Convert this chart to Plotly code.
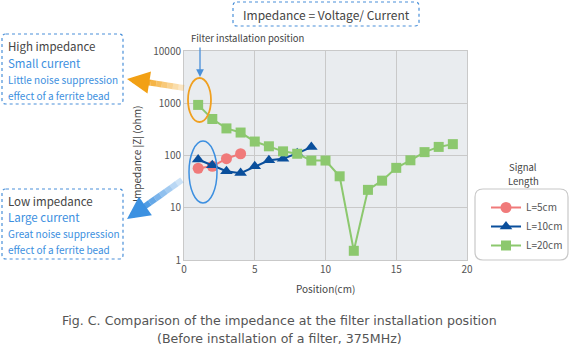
import plotly.graph_objects as go

# ---- data ----
pos_5 = [1, 2, 3, 4]
z_5 = [57, 62, 87, 108]
pos_10 = [1, 2, 3, 4, 5, 6, 7, 8, 9]
z_10 = [84, 65, 50, 46, 62, 81, 87, 110, 145]
pos_20 = [1, 2, 3, 4, 5, 6, 7, 8, 9, 10, 11, 12, 13, 14, 15, 16, 17, 18, 19]
z_20 = [930, 500, 330, 275, 185, 150, 120, 108, 80, 80, 40, 1.5, 22, 33, 58, 81, 116, 146, 165]
x_ticks = [0, 5, 10, 15, 20]
y_ticks = [1, 10, 100, 1000, 10000]
y_tick_text = ["1", "10", "100", "1000", "10000"]

W, H = 570, 346
L, R, T, B = 184, 467, 51, 260
FONT = "Noto Sans CJK JP"
WIDE = "DejaVu Sans"
BLUE_T = "#3c8fe0"
GRAY_T = "#444444"

def px(x):
    return (x - L) / (R - L)

def py(y):
    return (B - y) / (B - T)

fig = go.Figure()
fig.add_trace(go.Scatter(x=pos_5, y=z_5, name="L=5cm", mode="lines+markers",
                         line=dict(color="#f07a7a", width=2),
                         marker=dict(symbol="circle", size=11, color="#f07a7a")))
fig.add_trace(go.Scatter(x=pos_10, y=z_10, name="L=10cm", mode="lines+markers",
                         line=dict(color="#0a4f9c", width=2),
                         marker=dict(symbol="triangle-up", size=11, color="#0a4f9c")))
fig.add_trace(go.Scatter(x=pos_20, y=z_20, name="L=20cm", mode="lines+markers",
                         line=dict(color="#8cc86e", width=2),
                         marker=dict(symbol="square", size=10, color="#8cc86e")))

shapes = []
annotations = []

def rrect(x0, y0, x1, y1, r, color, dash, width=1.2):
    p = (f"M {px(x0 + r)} {py(y0)} L {px(x1 - r)} {py(y0)} "
         f"Q {px(x1)} {py(y0)} {px(x1)} {py(y0 + r)} "
         f"L {px(x1)} {py(y1 - r)} Q {px(x1)} {py(y1)} {px(x1 - r)} {py(y1)} "
         f"L {px(x0 + r)} {py(y1)} Q {px(x0)} {py(y1)} {px(x0)} {py(y1 - r)} "
         f"L {px(x0)} {py(y0 + r)} Q {px(x0)} {py(y0)} {px(x0 + r)} {py(y0)} Z")
    shapes.append(dict(type="path", xref="paper", yref="paper", path=p,
                       line=dict(color=color, width=width, dash=dash)))

def text(x, y, s, size, color, xanchor="left", angle=0, family=FONT, pad=1):
    annotations.append(dict(x=px(x), y=py(y), xref="paper", yref="paper", text=s,
                            showarrow=False, xanchor=xanchor, yanchor="middle",
                            textangle=angle, borderpad=pad,
                            font=dict(family=family, size=size, color=color)))

def arrow(hx, hy, tx, ty, width, size, color):
    annotations.append(dict(x=px(hx), y=py(hy), xref="paper", yref="paper",
                            ax=tx - hx, ay=ty - hy, axref="pixel", ayref="pixel",
                            text="", showarrow=True, arrowhead=2, arrowsize=size,
                            arrowwidth=width, arrowcolor=color, standoff=0))

def fade_arrow(hx, hy, tx, ty, width, color_rgb, n=8):
    # shaft fading from tail to head, then a solid head
    hx2 = hx + (tx - hx) * 0.22
    hy2 = hy + (ty - hy) * 0.22
    for i in range(n):
        f0, f1 = i / n, (i + 1) / n
        x0 = tx + (hx2 - tx) * f0
        y0 = ty + (hy2 - ty) * f0
        x1 = tx + (hx2 - tx) * f1
        y1 = ty + (hy2 - ty) * f1
        op = 0.15 + 0.85 * (i + 1) / n
        shapes.append(dict(type="line", xref="paper", yref="paper",
                           x0=px(x0), y0=py(y0), x1=px(x1), y1=py(y1),
                           line=dict(color=f"rgba({color_rgb},{op:.2f})", width=width)))
    arrow(hx, hy, hx2, hy2, width, 0.75, f"rgb({color_rgb})")

# dotted boxes
rrect(233, 2, 419, 26, 4, "#4a90d9", "dot")
rrect(2, 34, 123, 104, 4, "#4a90d9", "dot")
rrect(2, 189, 123, 259, 4, "#4a90d9", "dot")
# legend box
rrect(475, 189, 568, 260, 8, "#c8c8c8", "solid", 1.2)

text(326, 14, "Impedance = Voltage/ Current", 12, GRAY_T, "center")
text(6, 46, "High impedance", 11.5, GRAY_T)
text(6, 63, "Small current", 11.5, BLUE_T)
text(6, 79, "Little noise suppression", 10, BLUE_T)
text(6, 95, "effect of a ferrite bead", 10, BLUE_T)
text(6, 201, "Low impedance", 11.5, GRAY_T)
text(6, 217, "Large current", 11.5, BLUE_T)
text(6, 233, "Great noise suppression", 10, BLUE_T)
text(6, 249, "effect of a ferrite bead", 10, BLUE_T)
text(247, 38, "Filter installation position", 9.5, GRAY_T, "center")
text(523, 166.5, "Signal", 9.5, GRAY_T, "center", pad=0)
text(523, 180.5, "Length", 9.5, GRAY_T, "center", pad=0)
text(325, 288, "Position(cm)", 10, GRAY_T, "center")
text(136, 154, "Impedance |Z| (ohm)", 10, GRAY_T, "center", -90)
text(279, 320, "Fig. C. Comparison of the impedance at the filter installation position",
     12.6, "#555555", "center", family=WIDE)
text(279, 338, "(Before installation of a filter, 375MHz)", 12.6, "#555555", "center", family=WIDE)

# ellipses
shapes.append(dict(type="circle", xref="paper", yref="paper",
                   x0=px(188), x1=px(211), y0=py(78), y1=py(122),
                   line=dict(color="#f0a020", width=1.8)))
shapes.append(dict(type="circle", xref="paper", yref="paper",
                   x0=px(189), x1=px(217), y0=py(141), y1=py(203),
                   line=dict(color="#3c8fe0", width=1.5)))

# arrows
arrow(200, 77, 200, 46, 1.3, 1.2, "#4a90d9")
fade_arrow(127, 79, 184, 88, 6, "242,160,20")
fade_arrow(127, 219, 182, 180, 6, "60,145,225")

fig.update_layout(
    width=W, height=H,
    margin=dict(l=L, r=W - R, t=T, b=H - B, autoexpand=False),
    paper_bgcolor="white", plot_bgcolor="#e9ecef",
    font=dict(family=FONT, size=10, color="#555555"),
    showlegend=True,
    legend=dict(x=px(486), y=py(193), xanchor="left", yanchor="top",
                bgcolor="rgba(0,0,0,0)", font=dict(size=10, color="#555555"),
                itemwidth=30, tracegroupgap=0),
    shapes=shapes, annotations=annotations,
)
fig.update_xaxes(range=[0, 20], tickvals=x_ticks, showgrid=True, gridcolor="#c9c9c9",
                 gridwidth=1, zeroline=False, showline=True, linecolor="#c9c9c9",
                 mirror=True, ticks="", tickfont=dict(size=10, color="#555555"))
fig.update_yaxes(type="log", range=[0, 4], tickvals=y_ticks, ticktext=y_tick_text,
                 showgrid=True, gridcolor="#c9c9c9", gridwidth=1, zeroline=False,
                 showline=True, linecolor="#c9c9c9", mirror=True, ticks="",
                 tickfont=dict(size=10, color="#555555"))

fig.write_html("out.html")
